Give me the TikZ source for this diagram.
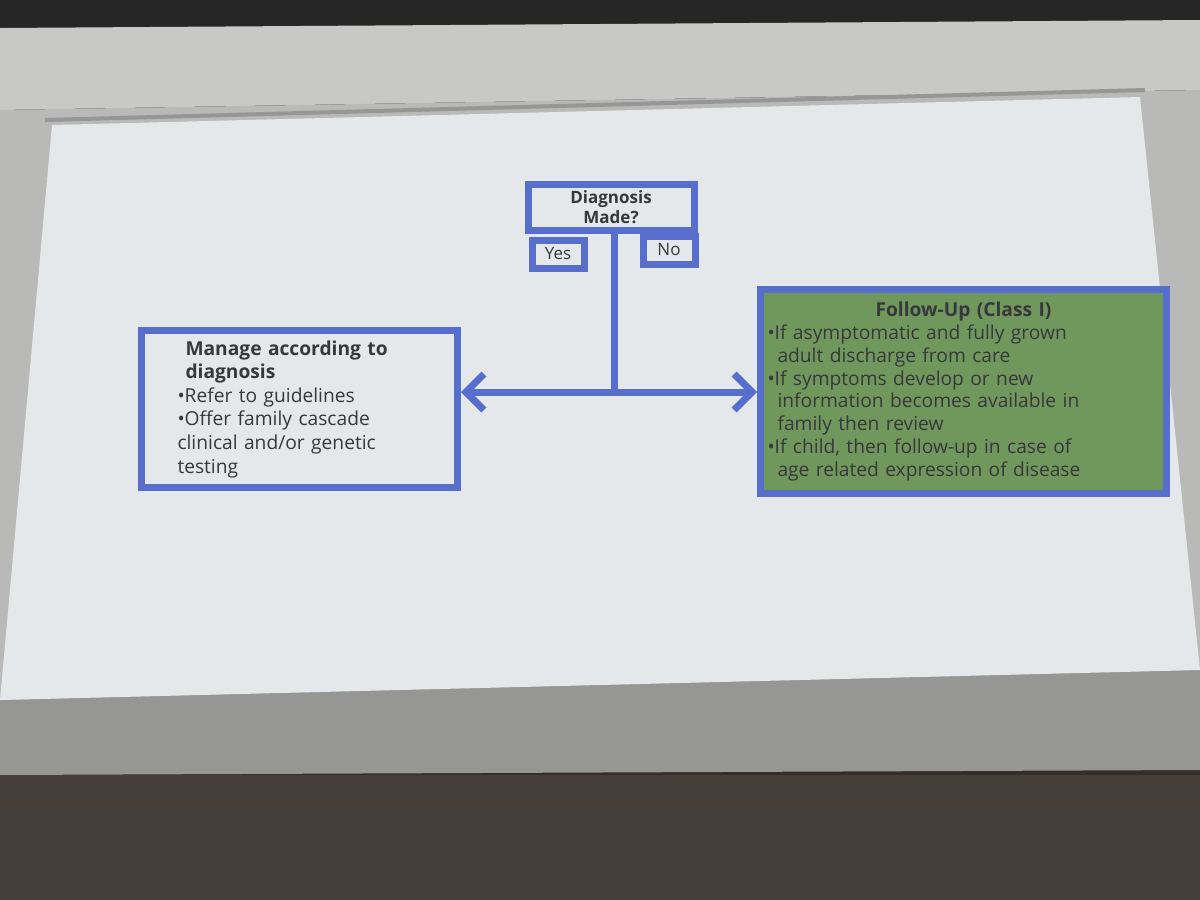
\documentclass[tikz,border=0pt]{standalone}
\usepackage{fontspec}
\setmainfont{Open Sans}
\usetikzlibrary{arrows.meta}
\definecolor{bord}{RGB}{88,110,205}
\definecolor{scr}{RGB}{228,232,234}
\definecolor{grn}{RGB}{112,152,92}
\definecolor{txt}{RGB}{55,55,60}
\definecolor{dark}{RGB}{52,46,42}
\definecolor{band}{RGB}{150,150,148}
\definecolor{ceil}{RGB}{200,200,198}
\definecolor{wall}{RGB}{185,185,183}
\definecolor{floorc}{RGB}{70,62,56}
\definecolor{rim}{RGB}{150,150,150}
\tikzset{
  bx/.style={draw=bord,line width=3.5pt,inner sep=0pt,text=txt},
  conn/.style={draw=bord,line width=3.5pt},
}
\begin{document}
\begin{tikzpicture}[x=0.5pt,y=-0.5pt]
\useasboundingbox (0,0) rectangle (1200,900);
\fill[dark] (0,0) rectangle (1200,900);
\fill[black!85] (0,0) rectangle (1200,28);
\fill[ceil] (0,28) -- (1200,20) -- (1200,90) -- (0,110) -- cycle;
\fill[wall] (0,110) -- (1200,90) -- (1200,760) -- (0,760) -- cycle;
\fill[band] (0,700) -- (1200,668) -- (1200,770) -- (0,775) -- cycle;
\fill[floorc] (0,775) rectangle (1200,900);
\fill[black!75] (0,810) rectangle (1200,816);
\fill[scr] (52,125) -- (1140,97) -- (1200,670) -- (0,700) -- cycle;
\draw[rim, line width=2pt] (45,120) -- (1145,90);

\node[bx,minimum width=83pt,minimum height=23pt,align=center,font=\bfseries\fontsize{8.5}{10}\selectfont] (diag) at (611,207) {Diagnosis\\Made?};
\node[bx,minimum width=26pt,minimum height=14pt,font=\fontsize{8.5}{9}\selectfont] (yes) at (558,254) {Yes};
\node[bx,minimum width=26pt,minimum height=14pt,font=\fontsize{8.5}{9}\selectfont] (no) at (669,250) {No};

\node[bx,minimum width=158pt,minimum height=78pt,anchor=north west,text width=150pt,inner xsep=4pt,inner ysep=5pt,align=left,font=\fontsize{9.6}{11.8}\selectfont] (left) at (138,327)
{\hspace*{18pt}\textbf{Manage according to}\\
\hspace*{18pt}\textbf{diagnosis}\\
\hspace*{14pt}\textbullet Refer to guidelines\\
\hspace*{14pt}\textbullet Offer family cascade\\
\hspace*{14pt}clinical and/or genetic\\
\hspace*{14pt}testing};

\node[bx,fill=grn,minimum width=203pt,minimum height=102pt,anchor=north west,text width=196pt,inner xsep=3pt,inner ysep=5pt,align=left,font=\fontsize{9.6}{11.4}\selectfont] (right) at (757,286)
{\centerline{\textbf{Follow-Up (Class I)}}\\
\textbullet If asymptomatic and fully grown\\
\hspace*{5pt}adult discharge from care\\
\textbullet If symptoms develop or new\\
\hspace*{5pt}information becomes available in\\
\hspace*{5pt}family then review\\
\textbullet If child, then follow-up in case of\\
\hspace*{5pt}age related expression of disease};

\coordinate (j) at (614,392);
\draw[conn] (diag.south -| j) -- (j);
\draw[conn,-{Straight Barb[length=9pt,width=18pt,line width=3.5pt]}] (j) -- (left.east |- j);
\draw[conn,-{Straight Barb[length=9pt,width=18pt,line width=3.5pt]}] (j) -- (right.west |- j);
\end{tikzpicture}
\end{document}
